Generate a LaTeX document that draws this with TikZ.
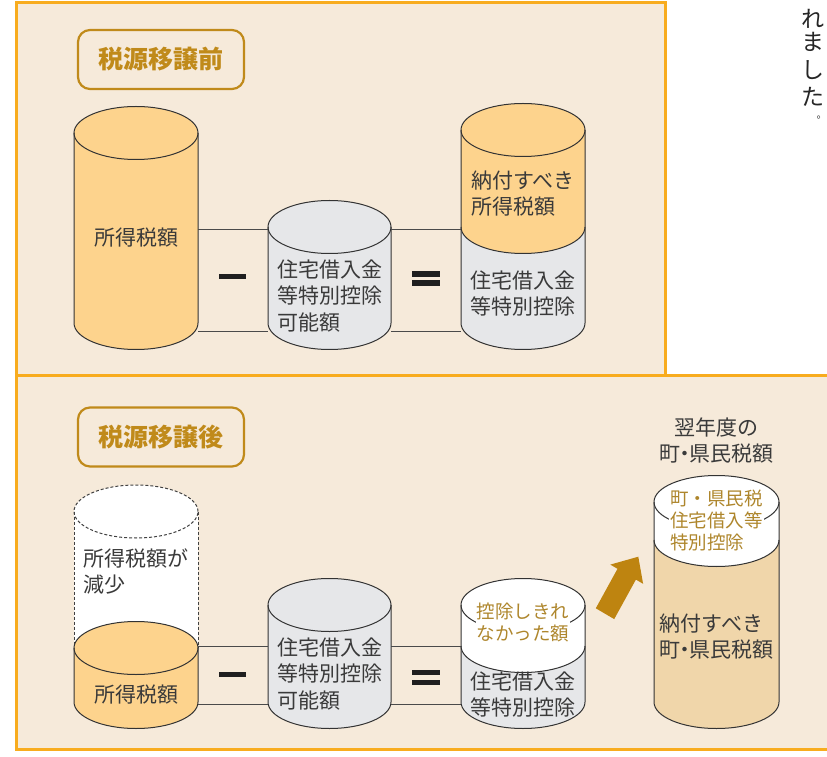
\documentclass[tikz,border=0pt]{standalone}
\usepackage{fontspec}
\newfontfamily\jp{Noto Sans CJK JP}
\definecolor{panelbg}{HTML}{F6EADA}
\definecolor{panelbd}{HTML}{F8AC1E}
\definecolor{gold}{HTML}{C08A1A}
\definecolor{goldtxt}{HTML}{AE862C}
\definecolor{cylorange}{HTML}{FDD38D}
\definecolor{cyltan}{HTML}{F0D6AA}
\definecolor{cylgray}{HTML}{E6E7E9}
\definecolor{txt}{HTML}{3A3A3A}
\definecolor{arrowgold}{HTML}{BE8410}
\definecolor{linegray}{HTML}{4A4A4A}
\newcommand\cylfull[5]{%
  \pgfmathsetmacro\crx{(#2-#1)/2}%
  \fill[#5] (#1,#3) -- (#1,#4) arc[start angle=180,end angle=360,x radius=\crx,y radius=26.5]
    -- (#2,#3) arc[start angle=0,end angle=180,x radius=\crx,y radius=26.5] -- cycle;}
\newcommand\cyllower[5]{%
  \pgfmathsetmacro\crx{(#2-#1)/2}%
  \fill[#5] (#1,#3) -- (#1,#4) arc[start angle=180,end angle=360,x radius=\crx,y radius=26.5]
    -- (#2,#3) arc[start angle=0,end angle=-180,x radius=\crx,y radius=26.5] -- cycle;}
\newcommand\cyloutline[5]{%
  \pgfmathsetmacro\crx{(#2-#1)/2}%
  \pgfmathsetmacro\ccx{(#1+#2)/2}%
  \draw[#5] (#1,#3) -- (#1,#4) arc[start angle=180,end angle=360,x radius=\crx,y radius=26.5] -- (#2,#3);
  \draw[#5] (\ccx,#3) ellipse[x radius=\crx,y radius=26.5];}
\newcommand\cylarc[4]{%
  \pgfmathsetmacro\crx{(#2-#1)/2}%
  \draw[cylline] (#1,#3) arc[start angle=180,end angle=#4,x radius=\crx,y radius=26.5];}
\begin{document}
\begin{tikzpicture}[x=1pt,y=1pt,
  cylline/.style={draw=black!80,line width=1pt},
  dashline/.style={draw=black!75,line width=1pt,dash pattern=on 3pt off 2pt},
  connline/.style={draw=linegray,line width=0.9pt},
  labelbox/.style={draw=gold,line width=2.2pt,rounded corners=12pt,minimum width=166,minimum height=59,
    text=gold,font=\jp\bfseries\fontsize{25}{30}\selectfont,inner sep=0},
  cyltext/.style={font=\jp\fontsize{21}{26.5}\selectfont,text=txt,align=left,inner sep=0},
  goldtext/.style={font=\jp\fontsize{18.5}{22}\selectfont,text=goldtxt,align=left,inner sep=1pt,fill=white},
  headtext/.style={font=\jp\fontsize{21}{26}\selectfont,text=txt,align=center,inner sep=0},
  vtext/.style={font=\jp\fontsize{23}{23}\selectfont,text=black!85,inner sep=0},
  opbar/.style={fill=black!88}
]
\useasboundingbox (0,0) rectangle (827,756);
% panels
\fill[panelbg] (16,7) rectangle (845,380);
\draw[panelbd,line width=3pt] (845,380) -- (16,380) -- (16,7) -- (845,7);
\draw[panelbd,fill=panelbg,line width=3pt] (16,380) rectangle (665,753);

% labels
\node[labelbox] (lab1) at (161,696.5) {税源移譲前};
\node[labelbox] (lab2) at (161,319) {税源移譲後};

% vertical text at right
\node[vtext] (v1) at (813,737) {れ};
\node[vtext] (v2) at (813,714) {ま};
\node[vtext] (v3) at (813,686) {し};
\node[vtext] (v4) at (813,659) {た};
\node[vtext,font=\jp\fontsize{10.5}{10.5}\selectfont,anchor=base west] (v5) at (816.5,637) {。};

% ===== top section =====
% cylinder A
\cylfull{74}{198}{623}{433}{cylorange}
\cyloutline{74}{198}{623}{433}{cylline}
\node[cyltext] (tA) at (136,518) {所得税額};
% cylinder B
\cylfull{268}{391}{529}{433}{cylgray}
\cyloutline{268}{391}{529}{433}{cylline}
\node[cyltext] (tB) at (329.5,460) {住宅借入金\\等特別控除\\可能額};
% cylinder C
\cylfull{461}{585}{626}{433}{cylorange}
\cyllower{461}{585}{529}{433}{cylgray}
\cyloutline{461}{585}{626}{433}{cylline}
\cylarc{461}{585}{529}{360}
\node[cyltext] (tC1) at (523,562.5) {納付すべき\\所得税額};
\node[cyltext] (tC2) at (523,462.5) {住宅借入金\\等特別控除};
% connectors
\coordinate (A1) at (198,527); \coordinate (B1l) at (268,527);
\coordinate (B1r) at (391,527); \coordinate (C1) at (461,527);
\coordinate (A2) at (198,425); \coordinate (B2l) at (268,425);
\coordinate (B2r) at (391,425); \coordinate (C2) at (461,425);
\draw[connline] (A1) -- (B1l); \draw[connline] (B1r) -- (C1);
\draw[connline] (A2) -- (B2l); \draw[connline] (B2r) -- (C2);
% operators
\fill[opbar] (219,476.5) rectangle (246,481.5);
\fill[opbar] (412,479) rectangle (440,484.5);
\fill[opbar] (412,470) rectangle (440,475.5);

% ===== bottom section =====
% dashed cylinder D
\cylfull{74}{198}{244.5}{108}{white}
\draw[dashline] (74,244.5) -- (74,108);
\draw[dashline] (198,244.5) -- (198,108);
\draw[dashline] (136,244.5) ellipse[x radius=62,y radius=26.5];
\node[cyltext] (tD1) at (136,184.5) {所得税額が\\減少};
% orange small cylinder
\cylfull{74}{198}{108}{54}{cylorange}
\cyloutline{74}{198}{108}{54}{cylline}
\node[cyltext] (tD2) at (136,61) {所得税額};
% cylinder E
\cylfull{268}{391}{151}{54}{cylgray}
\cyloutline{268}{391}{151}{54}{cylline}
\node[cyltext] (tE) at (329.5,82) {住宅借入金\\等特別控除\\可能額};
% cylinder F
\cylfull{461}{585}{151}{54}{white}
\cyllower{461}{585}{110}{54}{cylgray}
\cyloutline{461}{585}{151}{54}{cylline}
\node[goldtext] (tF1) at (523,134) {控除しきれ\\なかった額};
\cylarc{461}{585}{110}{360}
\node[cyltext] (tF2) at (523,61.5) {住宅借入金\\等特別控除};
% connectors
\coordinate (D1) at (198,110); \coordinate (E1l) at (268,110);
\coordinate (E1r) at (391,110); \coordinate (F1) at (461,110);
\coordinate (D2) at (198,52); \coordinate (E2l) at (268,52);
\coordinate (E2r) at (391,52); \coordinate (F2) at (461,52);
\draw[connline] (D1) -- (E1l); \draw[connline] (E1r) -- (F1);
\draw[connline] (D2) -- (E2l); \draw[connline] (E2r) -- (F2);
% operators
\fill[opbar] (219,79.5) rectangle (246,84.5);
\fill[opbar] (412,81) rectangle (440,86.5);
\fill[opbar] (412,71) rectangle (440,76.5);
% arrow
\fill[arrowgold] (595.8,147.7) -- (614.2,136.9) -- (635.9,176.4) -- (643.1,172.2)
  -- (638.3,199.3) -- (610.3,191.4) -- (617.5,187.2) -- cycle;
% cylinder G
\node[headtext] (hG) at (716.5,316) {翌年度の\\町{\kern-.3em}・{\kern-.3em}県民税額};
\cylfull{654}{779}{254}{54}{white}
\cyllower{654}{779}{216}{54}{cyltan}
\cyloutline{654}{779}{254}{54}{cylline}
\node[goldtext] (tG1) at (716.5,236) {町・県民税\\住宅借入等\\特別控除};
\cylarc{654}{779}{216}{360}
\node[cyltext] (tG2) at (716.5,119.5) {納付すべき\\町{\kern-.3em}・{\kern-.3em}県民税額};
\end{tikzpicture}
\end{document}
